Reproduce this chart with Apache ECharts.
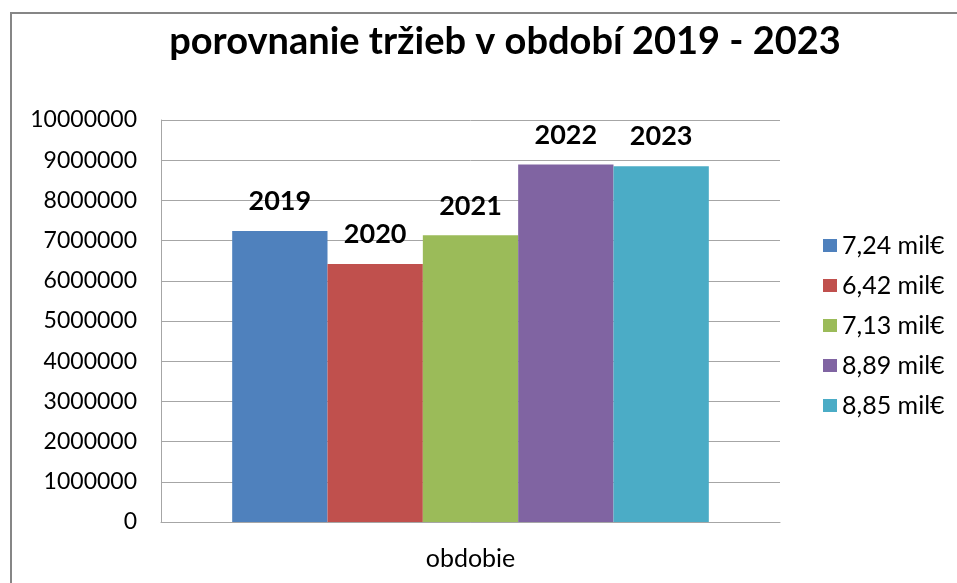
<!DOCTYPE html>
<html>
<head>
<meta charset="utf-8">
<title>porovnanie tržieb</title>
<script src="https://cdn.jsdelivr.net/npm/echarts@6/dist/echarts.min.js"></script>
<style>
  html, body { margin: 0; padding: 0; background: #fff; }
  #chart { width: 957px; height: 583px; }
</style>
</head>
<body>
<div id="chart"></div>
<script>
// data
var categories = ['obdobie']
var years = ['2019', '2020', '2021', '2022', '2023']
var legendNames = ['7,24 mil€', '6,42 mil€', '7,13 mil€', '8,89 mil€', '8,85 mil€']
var values = [7240000, 6420000, 7130000, 8890000, 8850000]
var yTicks = { min: 0, max: 10000000, step: 1000000 }

var colors = ['#4F81BD', '#C0504D', '#9BBB59', '#8064A2', '#4BACC6']
var font = 'Lato, "Open Sans", sans-serif'
var gridColor = '#a6a6a6'

var chart = echarts.init(document.getElementById('chart'))

var series = []
for (var i = 0; i < values.length; i++) {
  series.push({
    name: legendNames[i],
    type: 'bar',
    barGap: '0%',
    barCategoryGap: '23%',
    itemStyle: { color: colors[i] },
    label: {
      show: true,
      position: 'top',
      distance: 16,
      formatter: (function (y) {
        return function () { return y }
      })(years[i]),
      fontFamily: font,
      fontWeight: 'bold',
      fontSize: 27,
      color: '#000'
    },
    data: [values[i]]
  })
}

var option = {
  animation: false,
  backgroundColor: '#fff',
  color: colors,
  graphic: [
    {
      type: 'rect',
      shape: { x: 11, y: 13, width: 1000, height: 1000 },
      style: { fill: 'none', stroke: '#868686', lineWidth: 2 },
      silent: true
    }
  ],
  title: {
    text: 'porovnanie tržieb v období 2019 - 2023',
    left: 500,
    top: 18,
    textAlign: 'center',
    textStyle: {
      fontFamily: font,
      fontWeight: 'bold',
      fontSize: 38,
      color: '#000'
    }
  },
  legend: {
    orient: 'vertical',
    left: 818,
    top: 228,
    icon: 'rect',
    itemWidth: 14,
    itemHeight: 13,
    itemGap: 15,
    textStyle: {
      fontFamily: font,
      fontSize: 25,
      color: '#000',
      padding: [0, 0, 0, 0]
    },
    data: legendNames
  },
  grid: {
    left: 161,
    top: 120,
    right: 177,
    bottom: 61,
    containLabel: false
  },
  xAxis: {
    type: 'category',
    data: categories,
    axisLine: { show: true, lineStyle: { color: gridColor, width: 1 } },
    axisTick: { show: false },
    axisLabel: {
      margin: 24,
      fontFamily: font,
      fontSize: 25,
      color: '#000'
    }
  },
  yAxis: {
    type: 'value',
    min: yTicks.min,
    max: yTicks.max,
    interval: yTicks.step,
    axisLine: { show: true, lineStyle: { color: gridColor, width: 1 } },
    axisTick: { show: false },
    splitLine: { show: true, lineStyle: { color: gridColor, width: 1 } },
    axisLabel: {
      margin: 24,
      fontFamily: font,
      fontSize: 23,
      color: '#000',
      formatter: function (v) { return String(v) }
    }
  },
  series: series
}

chart.setOption(option)
</script>
</body>
</html>
